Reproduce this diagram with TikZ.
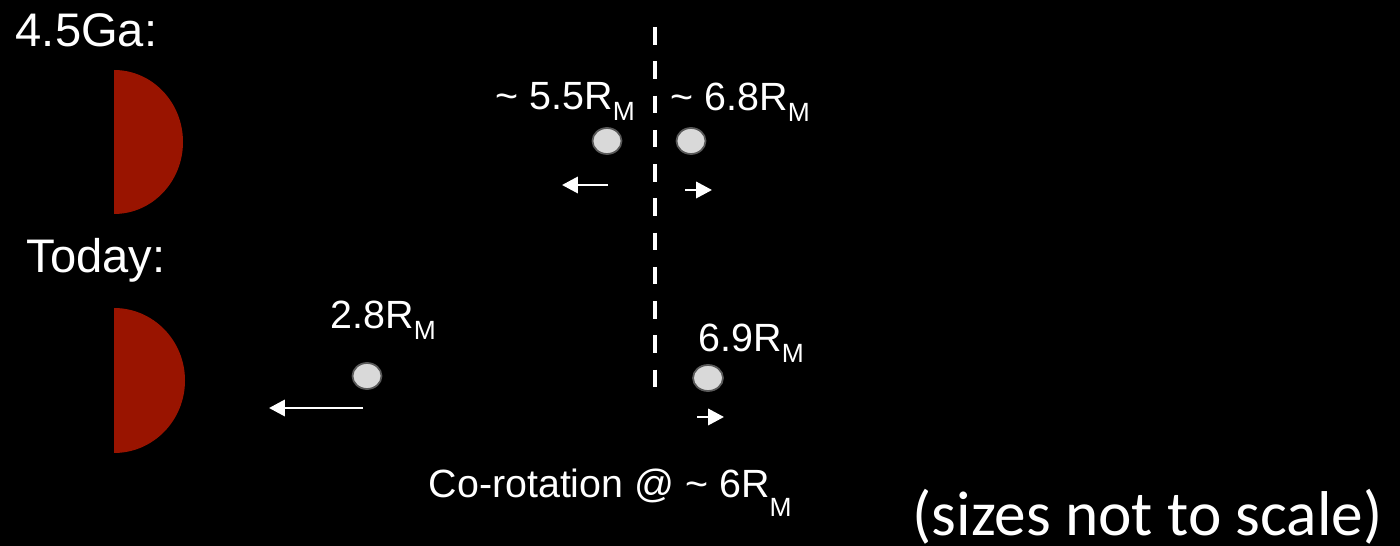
\documentclass[tikz,border=0pt]{standalone}
\usepackage{fontspec}
\setmainfont{Liberation Sans}
\newfontfamily\calfont{Carlito}
\usepackage{xcolor}
\usepackage{tikz}
\usetikzlibrary{arrows.meta,shapes.geometric,positioning}
\definecolor{mred}{HTML}{991400}
\definecolor{mgray}{HTML}{D9D9D9}
\newcommand{\RM}[1][3pt]{R\raisebox{-#1}{\fontsize{7.5}{8}\selectfont M}}
\tikzset{
  >={Triangle[length=4.5pt, width=4.6pt]},
  mbody/.style={fill=mred},
  moon/.style={ellipse, draw=black!65, fill=mgray, line width=0.5pt,
               inner sep=0pt, minimum width=0.29cm, minimum height=0.26cm},
  mvarrow/.style={->, white, line width=0.75pt},
  corot/.style={white, dash pattern=on 0.175cm off 0.1675cm, line width=1.3pt},
  lbl/.style={white, anchor=base west, inner sep=0pt,
              font=\fontsize{11.2}{13}\selectfont},
  era/.style={white, anchor=base west, inner sep=0pt,
              font=\fontsize{13.4}{15}\selectfont},
}
\begin{document}
\begin{tikzpicture}[x=0.01cm,y=-0.01cm]

  % fond
  \fill[black] (0,0) rectangle (1400,546);
  \useasboundingbox (0,0) rectangle (1400,546);

  % Mars, 4.5 Ga et aujourd'hui
  \node[era] (t45) at (15,47) {4.5Ga:};
  \fill[mbody] (114,70) arc[start angle=-90, end angle=90,
                            x radius=69, y radius=72] -- cycle;
  \node[era] (tnow) at (26,273) {Today:};
  \fill[mbody] (114,308) arc[start angle=-90, end angle=90,
                             x radius=71, y radius=72.5] -- cycle;

  % rayon de co-rotation
  \coordinate (ctop) at (655,27);
  \coordinate (cbot) at (655,388);
  \draw[corot] (ctop) -- (cbot);

  % lunes a 4.5 Ga
  \node[moon] (m55) at (607,141) {};
  \node[moon] (m68) at (691,141) {};
  \node[lbl] (l55) at (495,110) {\textasciitilde{} 5.5\RM};
  \node[lbl] (l68) at (670,111) {\textasciitilde{} 6.8\RM};
  \coordinate (a55s) at (608,185);
  \coordinate (a55e) at (562,185);
  \coordinate (a68s) at (685,190);
  \coordinate (a68e) at (712,190);
  \draw[mvarrow] (a55s) -- (a55e);
  \draw[mvarrow] (a68s) -- (a68e);

  % lunes aujourd'hui
  \node[moon] (m28) at (367,376) {};
  \node[moon, minimum width=0.30cm] (m69) at (708,378) {};
  \node[lbl] (l28) at (330,329) {2.8\RM};
  \node[lbl] (l69) at (698,352) {6.9\RM};
  \coordinate (a28s) at (363,408);
  \coordinate (a28e) at (269,408);
  \coordinate (a69s) at (697,417);
  \coordinate (a69e) at (724,417);
  \draw[mvarrow] (a28s) -- (a28e);
  \draw[mvarrow] (a69s) -- (a69e);

  % legendes
  \node[lbl] (lco) at (428,498) {Co-rotation @ \textasciitilde{} 6\RM[5.4pt]};
  \node[lbl, font=\calfont\fontsize{18}{20}\selectfont] (note) at (912,535)
    {(sizes not to scale)};

\end{tikzpicture}
\end{document}
